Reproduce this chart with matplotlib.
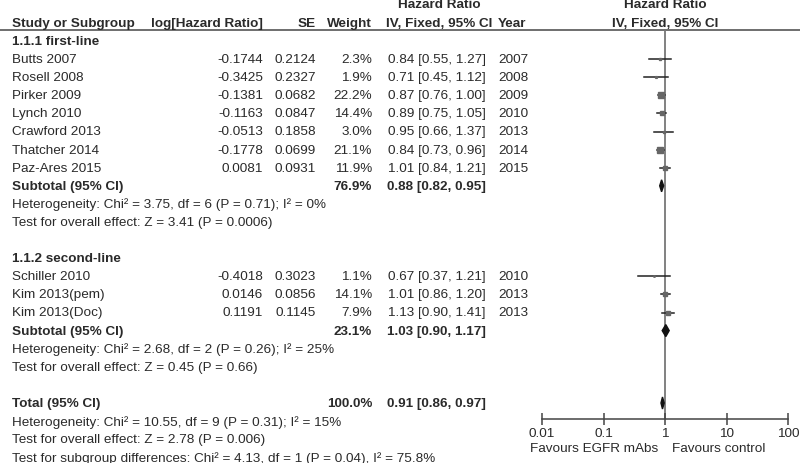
#!/usr/bin/env python3

import matplotlib
matplotlib.use('Agg')
import matplotlib.pyplot as plt

plt.rcParams['font.family'] = ['Liberation Sans', 'DejaVu Sans']

# --- data ---
g1_names = ['Butts 2007', 'Rosell 2008', 'Pirker 2009', 'Lynch 2010',
            'Crawford 2013', 'Thatcher 2014', 'Paz-Ares 2015']
g1_loghr = ['-0.1744', '-0.3425', '-0.1381', '-0.1163', '-0.0513', '-0.1778', '0.0081']
g1_se = ['0.2124', '0.2327', '0.0682', '0.0847', '0.1858', '0.0699', '0.0931']
g1_weight = [2.3, 1.9, 22.2, 14.4, 3.0, 21.1, 11.9]
g1_hr = [0.84, 0.71, 0.87, 0.89, 0.95, 0.84, 1.01]
g1_lo = [0.55, 0.45, 0.76, 0.75, 0.66, 0.73, 0.84]
g1_hi = [1.27, 1.12, 1.00, 1.05, 1.37, 0.96, 1.21]
g1_year = ['2007', '2008', '2009', '2010', '2013', '2014', '2015']

g2_names = ['Schiller 2010', 'Kim 2013(pem)', 'Kim 2013(Doc)']
g2_loghr = ['-0.4018', '0.0146', '0.1191']
g2_se = ['0.3023', '0.0856', '0.1145']
g2_weight = [1.1, 14.1, 7.9]
g2_hr = [0.67, 1.01, 1.13]
g2_lo = [0.37, 0.86, 0.90]
g2_hi = [1.21, 1.20, 1.41]
g2_year = ['2010', '2013', '2013']

sub_weight = [76.9, 23.1]
sub_hr = [0.88, 1.03]
sub_lo = [0.82, 0.90]
sub_hi = [0.95, 1.17]
total_weight = 100.0
total_hr, total_lo, total_hi = 0.91, 0.86, 0.97

het_text = ['Heterogeneity: Chi\u00b2 = 3.75, df = 6 (P = 0.71); I\u00b2 = 0%',
            'Heterogeneity: Chi\u00b2 = 2.68, df = 2 (P = 0.26); I\u00b2 = 25%',
            'Heterogeneity: Chi\u00b2 = 10.55, df = 9 (P = 0.31); I\u00b2 = 15%']
eff_text = ['Test for overall effect: Z = 3.41 (P = 0.0006)',
            'Test for overall effect: Z = 0.45 (P = 0.66)',
            'Test for overall effect: Z = 2.78 (P = 0.006)']
subgroup_text = 'Test for subgroup differences: Chi\u00b2 = 4.13, df = 1 (P = 0.04), I\u00b2 = 75.8%'
ticks = [0.01, 0.1, 1, 10, 100]
tick_labels = ['0.01', '0.1', '1', '10', '100']

# --- layout ---
W, H = 800, 464
TXT = '#2a2a2a'
FS = 9.7
def row(i):
  return 42 + 18.1 * i

fig = plt.figure(figsize=(W / 100, H / 100), dpi=100)
ax = fig.add_axes([0, 0, 1, 1])
ax.set_xlim(0, W)
ax.set_ylim(H, 0)
ax.axis('off')

x_name, x_log, x_se, x_w, x_ci, x_year = 12, 263, 316, 372, 388, 498

def t(x, y, s, ha='left', bold=False):
  ax.text(x, y, s, ha=ha, va='center', fontsize=FS, color=TXT,
          fontweight='bold' if bold else 'normal')

# headers
t(439, 5, 'Hazard Ratio', ha='center', bold=True)
t(665, 5, 'Hazard Ratio', ha='center', bold=True)
hy = 24
t(x_name, hy, 'Study or Subgroup', bold=True)
t(x_log, hy, 'log[Hazard Ratio]', ha='right', bold=True)
t(x_se, hy, 'SE', ha='right', bold=True)
t(x_w, hy, 'Weight', ha='right', bold=True)
t(439, hy, 'IV, Fixed, 95% CI', ha='center', bold=True)
t(x_year, hy, 'Year', bold=True)
t(665, hy, 'IV, Fixed, 95% CI', ha='center', bold=True)
ax.plot([0, W], [30.5, 30.5], color='#555555', lw=1.2)

# forest axes
fa = fig.add_axes([542 / W, 1 - 420 / H, (788 - 542) / W, (420 - 30.5) / H])
fa.set_xscale('log')
fa.set_xlim(0.01, 100)
fa.set_ylim(420, 30.5)
fa.patch.set_alpha(0)
for s in ['top', 'right', 'left']:
  fa.spines[s].set_visible(False)
fa.spines['bottom'].set_color('#444444')
fa.spines['bottom'].set_linewidth(1.1)
fa.set_yticks([])
fa.set_xticks(ticks)
fa.set_xticklabels(tick_labels)
fa.minorticks_off()
fa.tick_params(axis='x', direction='inout', length=9, width=1.1, color='#444444',
               labelsize=FS, labelcolor=TXT, pad=1)
fa.axvline(1, color='#777777', lw=1.3, zorder=1)

def study(i, name, lg, se, w, hr, lo, hi, yr):
  y = row(i)
  t(x_name, y, name)
  t(x_log, y, lg, ha='right')
  t(x_se, y, se, ha='right')
  t(x_w, y, '%.1f%%' % w, ha='right')
  t(x_ci, y, '%.2f [%.2f, %.2f]' % (hr, lo, hi))
  t(x_year, y, yr)
  fa.plot([lo, hi], [y, y], color='#222222', lw=1.1, zorder=3)
  side = 1.3 * w ** 0.5 * 0.72
  fa.plot([hr], [y], marker='s', ms=side, color='#666666', mec='#666666', zorder=4)

def diamond(y, hr, lo, hi):
  fa.fill([lo, hr, hi, hr], [y, y - 6, y, y + 6], color='#111111', zorder=4)

# group 1
t(x_name, row(0), '1.1.1 first-line', bold=True)
for k in range(len(g1_names)):
  study(1 + k, g1_names[k], g1_loghr[k], g1_se[k], g1_weight[k],
        g1_hr[k], g1_lo[k], g1_hi[k], g1_year[k])
t(x_name, row(8), 'Subtotal (95% CI)', bold=True)
t(x_w, row(8), '%.1f%%' % sub_weight[0], ha='right', bold=True)
t(x_ci - 1, row(8), '%.2f [%.2f, %.2f]' % (sub_hr[0], sub_lo[0], sub_hi[0]), bold=True)
diamond(row(8), sub_hr[0], sub_lo[0], sub_hi[0])
t(x_name, row(9), het_text[0])
t(x_name, row(10), eff_text[0])

# group 2
t(x_name, row(12), '1.1.2 second-line', bold=True)
for k in range(len(g2_names)):
  study(13 + k, g2_names[k], g2_loghr[k], g2_se[k], g2_weight[k],
        g2_hr[k], g2_lo[k], g2_hi[k], g2_year[k])
t(x_name, row(16), 'Subtotal (95% CI)', bold=True)
t(x_w, row(16), '%.1f%%' % sub_weight[1], ha='right', bold=True)
t(x_ci - 1, row(16), '%.2f [%.2f, %.2f]' % (sub_hr[1], sub_lo[1], sub_hi[1]), bold=True)
diamond(row(16), sub_hr[1], sub_lo[1], sub_hi[1])
t(x_name, row(17), het_text[1])
t(x_name, row(18), eff_text[1])

# total
t(x_name, row(20), 'Total (95% CI)', bold=True)
t(x_w, row(20), '%.1f%%' % total_weight, ha='right', bold=True)
t(x_ci - 1, row(20), '%.2f [%.2f, %.2f]' % (total_hr, total_lo, total_hi), bold=True)
diamond(row(20), total_hr, total_lo, total_hi)
t(x_name, row(21), het_text[2])
t(x_name, row(22), eff_text[2])
t(x_name, row(23), subgroup_text)

t(658, 449, 'Favours EGFR mAbs', ha='right')
t(672, 449, 'Favours control')

fig.savefig('out.png', dpi=100)
